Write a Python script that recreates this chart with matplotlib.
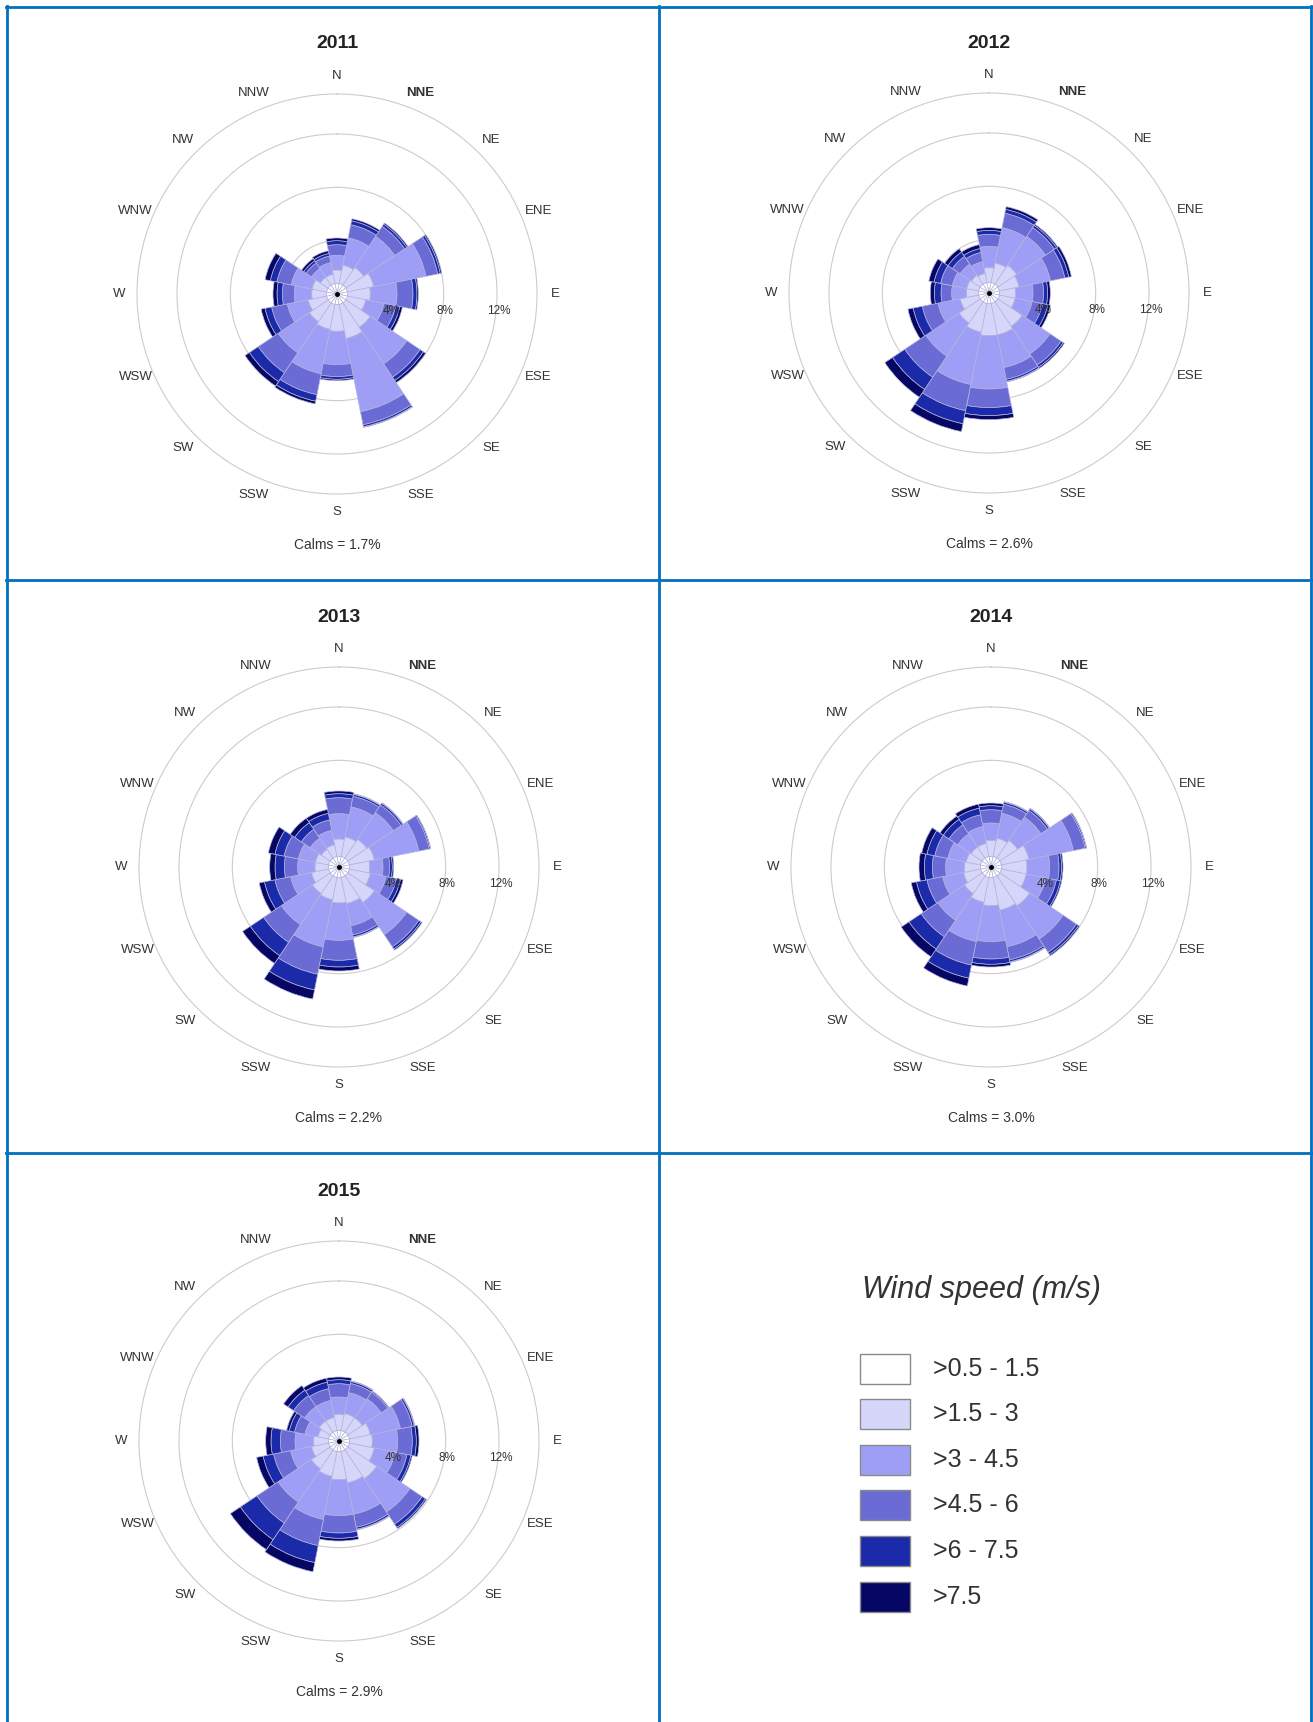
import numpy as np
import matplotlib
matplotlib.use('Agg')
import matplotlib.pyplot as plt
from matplotlib.patches import Rectangle
from matplotlib.lines import Line2D

plt.rcParams['font.family'] = ['Liberation Sans', 'DejaVu Sans']

# define data
directions = ['N', 'NNE', 'NE', 'ENE', 'E', 'ESE', 'SE', 'SSE',
              'S', 'SSW', 'SW', 'WSW', 'W', 'WNW', 'NW', 'NNW']
speed_classes = ['>0.5 - 1.5', '>1.5 - 3', '>3 - 4.5', '>4.5 - 6', '>6 - 7.5', '>7.5']
class_colors = ['#ffffff', '#d6d6fa', '#9e9ef6', '#6b6bd6', '#1a2aa8', '#060664']
years = ['2011', '2012', '2013', '2014', '2015']
calms = [1.7, 2.6, 2.2, 3.0, 2.9]
ring_values = [4, 8, 12]

# frequency (%) per direction, one column per speed class
speeds_2011 = [
    [0.8, 1.0, 1.1, 0.8, 0.3, 0.2],
    [0.8, 1.4, 2.1, 1.0, 0.3, 0.15],
    [0.8, 1.6, 2.8, 0.9, 0.2, 0.1],
    [0.8, 2.0, 4.0, 0.9, 0.2, 0.1],
    [0.8, 1.7, 2.0, 1.2, 0.3, 0.1],
    [0.8, 1.4, 1.4, 0.9, 0.3, 0.2],
    [0.8, 2.2, 3.3, 1.2, 0.3, 0.2],
    [0.8, 2.6, 5.6, 1.0, 0.15, 0.05],
    [0.8, 2.0, 2.5, 0.9, 0.2, 0.1],
    [0.8, 1.9, 3.4, 1.6, 0.5, 0.2],
    [0.8, 1.7, 2.8, 1.8, 0.8, 0.4],
    [0.8, 1.4, 1.6, 1.2, 0.5, 0.3],
    [0.8, 1.1, 1.3, 0.9, 0.4, 0.3],
    [0.8, 1.1, 1.6, 1.1, 0.5, 0.4],
    [0.8, 0.7, 0.8, 0.5, 0.2, 0.2],
    [0.8, 0.7, 0.9, 0.5, 0.2, 0.2],
]
speeds_2012 = [
    [0.8, 1.1, 1.6, 0.9, 0.3, 0.2],
    [0.8, 1.5, 2.7, 1.1, 0.3, 0.2],
    [0.8, 1.7, 2.6, 0.8, 0.2, 0.1],
    [0.8, 1.5, 2.4, 1.1, 0.3, 0.2],
    [0.8, 1.2, 1.3, 0.8, 0.3, 0.2],
    [0.8, 1.2, 1.3, 0.8, 0.4, 0.2],
    [0.8, 2.2, 2.5, 1.0, 0.2, 0.1],
    [0.8, 2.4, 2.5, 0.9, 0.15, 0.05],
    [0.8, 2.4, 4.0, 1.4, 0.6, 0.3],
    [0.8, 2.2, 4.0, 2.0, 1.0, 0.6],
    [0.8, 1.9, 3.0, 1.9, 1.1, 0.7],
    [0.8, 1.4, 1.7, 1.2, 0.7, 0.4],
    [0.8, 0.9, 1.1, 0.8, 0.5, 0.3],
    [0.8, 0.9, 1.1, 0.9, 0.5, 0.4],
    [0.8, 0.8, 1.0, 0.7, 0.4, 0.3],
    [0.8, 0.7, 0.9, 0.7, 0.3, 0.3],
]
speeds_2013 = [
    [0.8, 1.3, 1.9, 1.2, 0.3, 0.2],
    [0.8, 1.5, 2.3, 0.8, 0.15, 0.05],
    [0.8, 1.7, 2.4, 0.7, 0.15, 0.05],
    [0.8, 1.9, 3.4, 0.8, 0.1, 0.0],
    [0.8, 1.5, 1.0, 0.5, 0.2, 0.1],
    [0.8, 1.6, 1.2, 0.8, 0.3, 0.2],
    [0.8, 2.4, 2.9, 1.1, 0.2, 0.1],
    [0.8, 2.0, 1.7, 0.7, 0.15, 0.05],
    [0.8, 1.9, 2.8, 1.5, 0.5, 0.3],
    [0.8, 1.7, 3.6, 2.1, 1.2, 0.7],
    [0.8, 1.6, 2.8, 1.6, 1.2, 0.7],
    [0.8, 1.3, 1.6, 1.2, 0.8, 0.4],
    [0.8, 1.0, 1.3, 1.0, 0.7, 0.4],
    [0.8, 1.0, 1.3, 1.1, 0.7, 0.5],
    [0.8, 0.8, 1.0, 0.8, 0.6, 0.4],
    [0.8, 0.9, 1.1, 0.8, 0.5, 0.3],
]
speeds_2014 = [
    [0.8, 1.2, 1.3, 1.0, 0.3, 0.2],
    [0.8, 1.4, 1.9, 0.7, 0.15, 0.05],
    [0.8, 1.6, 2.1, 0.6, 0.15, 0.05],
    [0.8, 2.1, 3.4, 0.9, 0.1, 0.0],
    [0.8, 1.9, 1.7, 0.7, 0.2, 0.1],
    [0.8, 1.9, 1.5, 0.8, 0.3, 0.1],
    [0.8, 2.7, 3.0, 1.2, 0.2, 0.1],
    [0.8, 2.5, 2.8, 1.0, 0.15, 0.05],
    [0.8, 2.1, 2.7, 1.3, 0.4, 0.2],
    [0.8, 1.9, 3.0, 1.8, 1.0, 0.6],
    [0.8, 1.6, 2.4, 1.5, 1.1, 0.7],
    [0.8, 1.3, 1.6, 1.2, 0.8, 0.4],
    [0.8, 1.2, 1.4, 1.0, 0.6, 0.4],
    [0.8, 1.1, 1.4, 1.0, 0.6, 0.4],
    [0.8, 1.0, 1.2, 0.8, 0.5, 0.3],
    [0.8, 1.0, 1.3, 0.9, 0.5, 0.3],
]
speeds_2015 = [
    [0.8, 1.2, 1.3, 1.0, 0.3, 0.2],
    [0.8, 1.3, 1.6, 0.7, 0.15, 0.05],
    [0.8, 1.3, 1.7, 0.6, 0.1, 0.0],
    [0.8, 1.6, 2.3, 0.9, 0.15, 0.05],
    [0.8, 1.7, 1.9, 1.1, 0.3, 0.2],
    [0.8, 1.9, 1.6, 0.9, 0.3, 0.1],
    [0.8, 2.6, 3.0, 1.1, 0.3, 0.1],
    [0.8, 2.4, 2.4, 1.0, 0.15, 0.05],
    [0.8, 2.1, 2.7, 1.3, 0.4, 0.2],
    [0.8, 1.9, 3.3, 2.0, 1.3, 0.7],
    [0.8, 1.7, 3.0, 1.9, 1.5, 0.9],
    [0.8, 1.3, 1.6, 1.3, 0.8, 0.5],
    [0.8, 1.1, 1.4, 1.1, 0.7, 0.4],
    [0.8, 0.8, 1.0, 0.8, 0.4, 0.2],
    [0.8, 1.0, 1.3, 1.0, 0.5, 0.4],
    [0.8, 1.0, 1.3, 0.9, 0.5, 0.3],
]
all_speeds = [speeds_2011, speeds_2012, speeds_2013, speeds_2014, speeds_2015]

# layout (pixels)
W, H = 1313, 1722
centers = [(337, 294), (989, 293), (339, 867), (991, 867), (339, 1441)]
R_PX = 200
R_MAX = 15.0
text_col = '#333333'

fig = plt.figure(figsize=(W / 100, H / 100), dpi=100)

# table lines
blue = '#0070c0'
def hline(y, x0, x1):
    fig.add_artist(Line2D([x0 / W, x1 / W], [1 - y / H, 1 - y / H], color=blue, lw=2))
def vline(x, y0, y1):
    fig.add_artist(Line2D([x / W, x / W], [1 - y0 / H, 1 - y1 / H], color=blue, lw=2))

hline(7, 6, 1312)
hline(580, 6, 1312)
hline(1153, 6, 1312)
vline(7, 6, H)
vline(659, 6, H)
vline(1311, 6, H)

theta = np.deg2rad(np.arange(16) * 22.5)
width = np.deg2rad(22.5)

for year, calm, speeds, (cx, cy) in zip(years, calms, all_speeds, centers):
    ax = fig.add_axes([(cx - R_PX) / W, 1 - (cy + R_PX) / H, 2 * R_PX / W, 2 * R_PX / H],
                      projection='polar')
    ax.set_theta_zero_location('N')
    ax.set_theta_direction(-1)
    data = np.array(speeds)
    bottom = np.zeros(16)
    for k in range(6):
        ax.bar(theta, data[:, k], width=width, bottom=bottom, color=class_colors[k],
               edgecolor='#b4b4dc', linewidth=0.5, zorder=3)
        bottom += data[:, k]
    ax.plot([0], [0], 'o', color='black', ms=2.5, zorder=5)

    ax.set_ylim(0, R_MAX)
    ax.set_yticks(ring_values)
    ax.set_yticklabels([])
    ax.set_xticks([])
    ax.grid(True, axis='y', color='#cccccc', lw=0.8)
    ax.grid(False, axis='x')
    ax.spines['polar'].set_color('#cccccc')
    ax.spines['polar'].set_linewidth(0.8)

    # ring labels, just below the east axis
    for rv in ring_values:
        x, y = rv + 0.1, -1.3
        ax.text(np.arctan2(x, y), np.hypot(x, y), f'{rv}%', ha='center', va='center',
                fontsize=8.5, color=text_col, zorder=6)

    # compass labels
    for t, d in zip(theta, directions):
        ax.text(t, 16.35, d, ha='center', va='center', fontsize=9.5, color=text_col,
                fontweight='bold' if d == 'NNE' else 'normal', clip_on=False)

    fig.text(cx / W, 1 - (cy - 250) / H, year, ha='center', va='center',
             fontsize=14, fontweight='bold', color='#222222')
    fig.text(cx / W, 1 - (cy + 251) / H, f'Calms = {calm}%', ha='center', va='center',
             fontsize=10, color=text_col)

# legend
fig.text(862 / W, 1 - 1290 / H, 'Wind speed (m/s)', ha='left', va='center',
         fontsize=22, style='italic', color='#333333')
leg_y = [1369, 1414, 1460, 1505, 1551, 1597]
for lab, col, y in zip(speed_classes, class_colors, leg_y):
    fig.add_artist(Rectangle((860 / W, 1 - (y + 15) / H), 50 / W, 30 / H,
                             facecolor=col, edgecolor='#8a8a8a', lw=1.0,
                             transform=fig.transFigure))
    fig.text(933 / W, 1 - y / H, lab, ha='left', va='center', fontsize=18, color='#333333')

fig.savefig('out.png', dpi=100, facecolor='white')
